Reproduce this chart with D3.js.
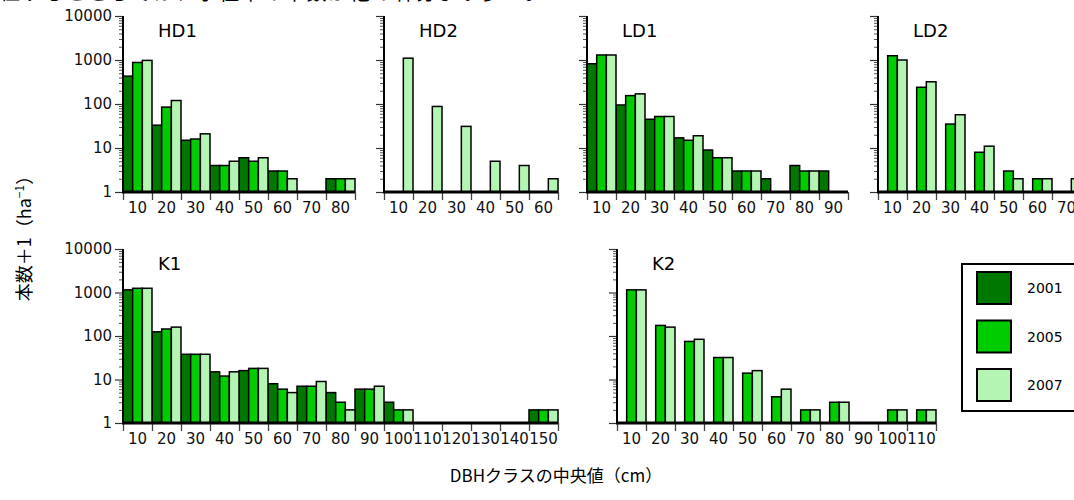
<!DOCTYPE html>
<html>
<head>
<meta charset="utf-8">
<script src="https://cdn.jsdelivr.net/npm/d3@7"></script>
<style>
  body { margin: 0; background: #fff; }
  svg { display: block; }
  .axis text { font-family: 'DejaVu Sans', sans-serif; font-size: 15px; fill: #111; }
  .ttl { font-family: 'DejaVu Sans', sans-serif; font-size: 18px; fill: #000; }
  .jp { font-family: 'Noto Sans CJK JP', sans-serif; fill: #000; }
</style>
</head>
<body>
<script>
// Data (plotted value = stems + 1)
var years = ['2001', '2005', '2007']
var colors = ['#007800', '#00cc00', '#b4f5b4']
var majorTicks = [1, 10, 100, 1000, 10000]

var hd1Classes = ['10', '20', '30', '40', '50', '60', '70', '80']
var hd1_2001 = [430, 33, 15, 4, 6, 3, 1, 2]
var hd1_2005 = [880, 85, 16, 4, 5, 3, 1, 2]
var hd1_2007 = [980, 120, 21, 5, 6, 2, 1, 2]

var hd2Classes = ['10', '20', '30', '40', '50', '60']
var hd2_2007 = [1100, 88, 31, 5, 4, 2]

var ld1Classes = ['10', '20', '30', '40', '50', '60', '70', '80', '90']
var ld1_2001 = [820, 95, 45, 17, 9, 3, 2, 4, 3]
var ld1_2005 = [1300, 155, 52, 15, 6, 3, 1, 3, 1]
var ld1_2007 = [1300, 170, 52, 19, 6, 3, 1, 3, 1]

var ld2Classes = ['10', '20', '30', '40', '50', '60', '70']
var ld2_2005 = [1250, 240, 35, 8, 3, 2, 1]
var ld2_2007 = [1000, 320, 57, 11, 2, 2, 2]

var k1Classes = ['10', '20', '30', '40', '50', '60', '70', '80', '90', '100', '110', '120', '130', '140', '150']
var k1_2001 = [1150, 125, 38, 15, 16, 8, 7, 5, 6, 3, 1, 1, 1, 1, 2]
var k1_2005 = [1250, 145, 38, 12, 18, 6, 7, 3, 6, 2, 1, 1, 1, 1, 2]
var k1_2007 = [1250, 160, 38, 15, 18, 5, 9, 2, 7, 2, 1, 1, 1, 1, 2]

var k2Classes = ['10', '20', '30', '40', '50', '60', '70', '80', '90', '100', '110']
var k2_2005 = [1150, 175, 75, 32, 14, 4, 2, 3, 1, 2, 2]
var k2_2007 = [1150, 160, 84, 32, 16, 6, 2, 3, 1, 2, 2]

// Layout
var w = 1074, h = 500
var bandW = 29
var panels = [
  { name: 'HD1', classes: hd1Classes, series: [hd1_2001, hd1_2005, hd1_2007], x0: 123, top: 16, bottom: 192, labels: true },
  { name: 'HD2', classes: hd2Classes, series: [null, null, hd2_2007], x0: 384, top: 16, bottom: 192 },
  { name: 'LD1', classes: ld1Classes, series: [ld1_2001, ld1_2005, ld1_2007], x0: 587, top: 16, bottom: 192 },
  { name: 'LD2', classes: ld2Classes, series: [null, ld2_2005, ld2_2007], x0: 878, top: 16, bottom: 192 },
  { name: 'K1', classes: k1Classes, series: [k1_2001, k1_2005, k1_2007], x0: 123, top: 249, bottom: 423, labels: true },
  { name: 'K2', classes: k2Classes, series: [null, k2_2005, k2_2007], x0: 617, top: 249, bottom: 423 }
]

var svg = d3.select('body').append('svg')
    .attr('width', w)
    .attr('height', h)

// minor ticks 2..9 per decade
var minorTicks = []
majorTicks.slice(0, 4).forEach(function (m) {
  for (var k = 2; k < 10; k++) minorTicks.push(m * k)
})

function drawPanel(p) {
  var n = p.classes.length
  var x = d3.scaleBand().domain(p.classes).range([p.x0, p.x0 + n * bandW])
  var sub = d3.scaleBand().domain(years).range([0, x.bandwidth()])
  var y = d3.scaleLog().domain([1, 10000]).range([p.bottom, p.top])
  var xb = d3.scaleLinear().domain([0, n]).range([p.x0, p.x0 + n * bandW])
  var g = svg.append('g')

  // Bars
  years.forEach(function (yr, i) {
    var vals = p.series[i]
    if (!vals) return
    var rows = vals.map(function (v, j) { return { c: p.classes[j], v: v } })
      .filter(function (d) { return d.v > 1 })
    g.selectAll(null)
        .data(rows)
        .enter()
      .append('rect')
        .attr('x', function (d) { return x(d.c) + sub(yr) })
        .attr('y', function (d) { return y(d.v) })
        .attr('width', sub.bandwidth())
        .attr('height', function (d) { return y(1) - y(d.v) })
        .attr('fill', colors[i])
        .attr('stroke', '#000')
        .attr('stroke-width', 1.5)
  })

  // Y-axis major + minor ticks
  var yAxis = d3.axisLeft(y)
    .tickValues(majorTicks)
    .tickSize(8)
    .tickPadding(3)
    .tickFormat(p.labels ? d3.format('d') : '')
  var ya = g.append('g')
      .attr('class', 'axis')
      .attr('transform', 'translate(' + p.x0 + ',0)')
      .call(yAxis)
  ya.select('.domain').remove()
  ya.selectAll('line').attr('stroke', '#333').attr('stroke-width', 1.2)
  var ym = g.append('g')
      .attr('class', 'axis')
      .attr('transform', 'translate(' + p.x0 + ',0)')
      .call(d3.axisLeft(y).tickValues(minorTicks).tickSize(4).tickFormat(''))
  ym.select('.domain').remove()
  ym.selectAll('line').attr('stroke', '#555').attr('stroke-width', 1)

  // X-axis boundary ticks
  var xt = g.append('g')
      .attr('class', 'axis')
      .attr('transform', 'translate(0,' + p.bottom + ')')
      .call(d3.axisBottom(xb).tickValues(d3.range(n + 1)).tickSize(8).tickFormat(''))
  xt.select('.domain').remove()
  xt.selectAll('line').attr('stroke', '#444').attr('stroke-width', 1.3)

  // X-axis class labels
  var xl = g.append('g')
      .attr('class', 'axis')
      .attr('transform', 'translate(0,' + p.bottom + ')')
      .call(d3.axisBottom(x).tickSize(0).tickPadding(10))
  xl.select('.domain').remove()

  // Axis lines
  g.append('line')
      .attr('x1', p.x0).attr('x2', p.x0)
      .attr('y1', p.top).attr('y2', p.bottom)
      .attr('stroke', '#000').attr('stroke-width', 2)
  g.append('line')
      .attr('x1', p.x0 - 1).attr('x2', p.x0 + n * bandW)
      .attr('y1', p.bottom).attr('y2', p.bottom)
      .attr('stroke', '#000').attr('stroke-width', 3)

  // Panel title
  g.append('text')
      .attr('class', 'ttl')
      .attr('x', p.x0 + 35)
      .attr('y', p.top + 21)
      .text(p.name)
}

panels.forEach(drawPanel)

// Cut-off line of body text at the top (as in the source figure)
svg.append('text')
    .attr('class', 'jp')
    .attr('x', 0)
    .attr('y', 0)
    .style('font-size', '20px')
    .attr('textLength', 545)
    .text('位するところでは、小径木の本数が他の林分より多い。')

// Legend
var leg = svg.append('g')
leg.append('rect')
    .attr('x', 962).attr('y', 264)
    .attr('width', 140).attr('height', 147)
    .attr('fill', '#fff').attr('stroke', '#000').attr('stroke-width', 2)
years.forEach(function (yr, i) {
  var yy = 272 + i * 48.5
  leg.append('rect')
      .attr('x', 977).attr('y', yy)
      .attr('width', 34).attr('height', 32)
      .attr('fill', colors[i]).attr('stroke', '#000').attr('stroke-width', 2)
  leg.append('text')
      .attr('x', 1027).attr('y', yy + 16)
      .attr('dy', '0.36em')
      .style('font-family', "'DejaVu Sans', sans-serif")
      .style('font-size', '14px')
      .text(yr)
})

// Axis titles
svg.append('text')
    .attr('class', 'jp')
    .attr('x', 556).attr('y', 482)
    .style('font-size', '17px')
    .style('text-anchor', 'middle')
    .text('DBHクラスの中央値（cm）')

var yt = svg.append('text')
    .attr('class', 'jp')
    .attr('transform', 'translate(31,234) rotate(-90)')
    .style('font-size', '18px')
    .style('text-anchor', 'middle')
yt.append('tspan').text('本数＋1（ha')
yt.append('tspan').attr('dy', -7).style('font-size', '12px').text('−1')
yt.append('tspan').attr('dy', 7).text('）')
</script>
</body>
</html>
